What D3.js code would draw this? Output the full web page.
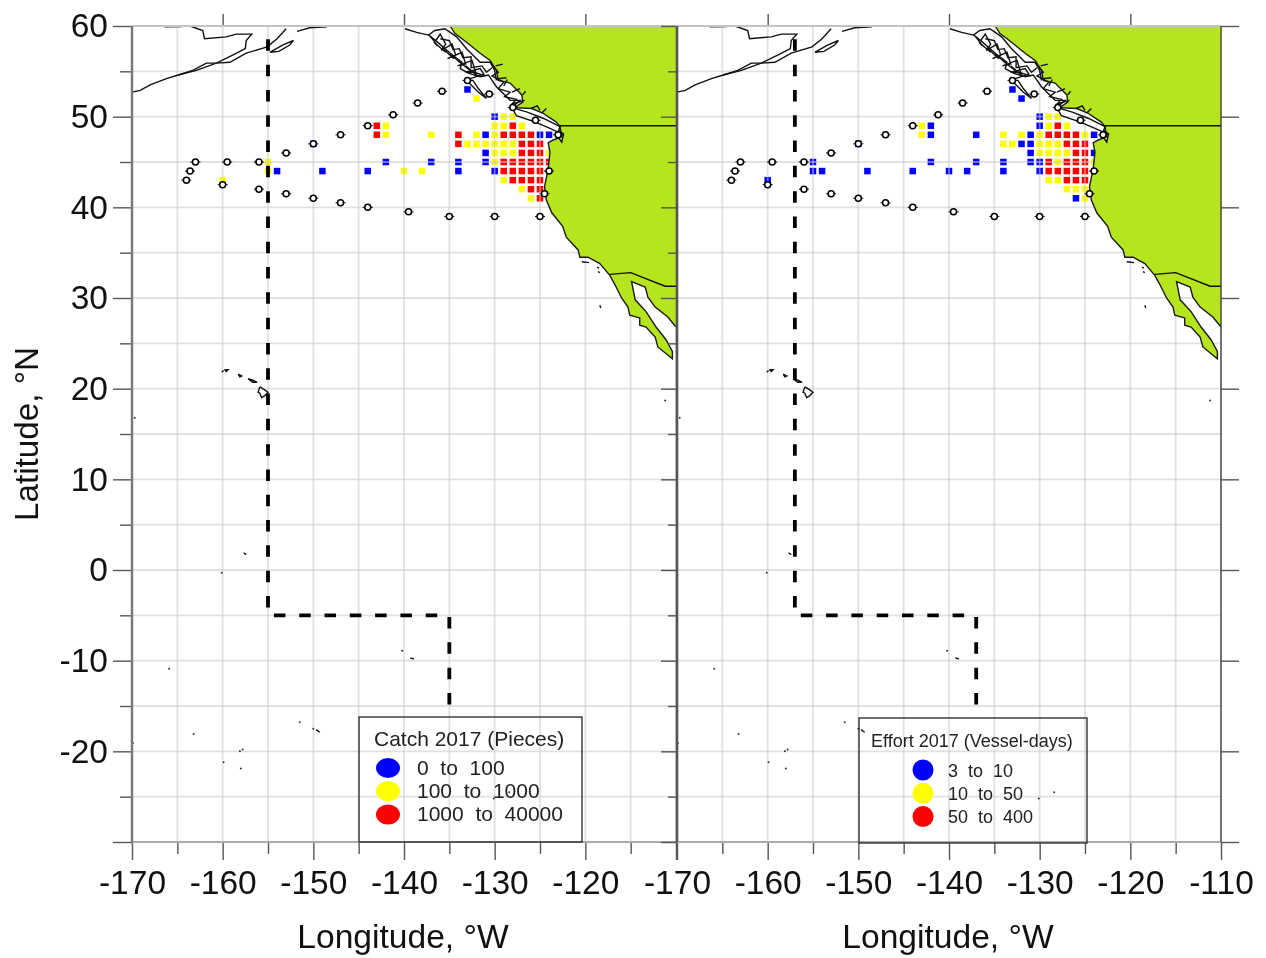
<!DOCTYPE html>
<html>
<head>
<meta charset="utf-8">
<script src="https://cdn.jsdelivr.net/npm/d3@7"></script>
<style>
  html, body { margin: 0; padding: 0; background: #fff; }
  svg { display: block; filter: blur(0.5px); font-family: "Liberation Sans", Arial, sans-serif; }
</style>
</head>
<body>
<svg id="chart" width="1266" height="958"></svg>
<script>
////////// Data : [longitude, latitude]

// catch 2017 (pieces)
var catchLow = [[-133,53],[-130,50],[-131,48],[-125,48],[-124,48],[-131,46],[-142,45],[-137,45],[-134,45],[-131,45],
  [-154,44],[-149,44],[-144,44],[-134,44],[-130,44],[-150,47]];
var catchMid = [[-132,52],[-129,50],[-128,50],[-142,49],[-130,49],[-129,49],[-127,49],[-142,48],[-137,48],[-132,48],[-130,48],
  [-133,47],[-132,47],[-131,47],[-130,47],[-129,47],[-128,47],[-130,46],[-129,46],[-128,46],[-124,46],[-155,45],[-130,45],
  [-155,44],[-140,44],[-138,44],[-160,43],[-129,43],[-127,42],[-126,41]];
var catchHigh = [[-143,49],[-128,49],[-143,48],[-134,48],[-129,48],[-128,48],[-127,48],[-126,48],[-134,47],[-127,47],[-126,47],[-125,47],
  [-127,46],[-126,46],[-125,46],[-129,45],[-128,45],[-127,45],[-126,45],[-125,45],[-124,45],
  [-129,44],[-128,44],[-127,44],[-126,44],[-125,44],[-128,43],[-127,43],[-126,43],[-125,43],[-126,42],[-125,42],[-125,41]];

// effort 2017 (vessel-days)
var effortLow = [[-133,53],[-132,52],[-130,50],[-142,49],[-130,49],[-142,48],[-137,48],[-131,48],[-124,48],[-132,47],[-131,47],
  [-150,47],[-131,46],[-124,46],[-155,45],[-142,45],[-137,45],[-134,45],[-131,45],[-130,45],
  [-155,44],[-154,44],[-149,44],[-144,44],[-140,44],[-138,44],[-134,44],[-130,44],[-160,43],[-126,41]];
var effortMid = [[-129,50],[-128,50],[-143,49],[-129,49],[-127,49],[-143,48],[-134,48],[-132,48],[-130,48],[-125,48],
  [-134,47],[-133,47],[-130,47],[-129,47],[-128,47],[-130,46],[-129,46],[-128,46],[-127,46],[-128,45],[-124,45],
  [-129,43],[-128,43],[-127,42],[-126,42],[-125,42],[-125,41]];
var effortHigh = [[-128,49],[-129,48],[-128,48],[-127,48],[-126,48],[-127,47],[-126,47],[-125,47],[-126,46],[-125,46],
  [-129,45],[-127,45],[-126,45],[-125,45],[-129,44],[-128,44],[-127,44],[-126,44],[-125,44],[-127,43],[-126,43],[-125,43]];

// sampling stations, the same on both panels
var stations = [[-164,43],[-163.6,44],[-163,45],[-159.5,45],[-156,45],[-160,42.5],[-156,42],[-153,46],[-153,41.5],[-150,47],[-150,41],
  [-147,48],[-147,40.5],[-144,49],[-144,40],[-141.2,50.2],[-138.5,51.5],[-139.5,39.5],[-135.8,52.8],[-133,54],[-130.6,52.5],
  [-128,51],[-125.5,49.6],[-123,48],[-124,44],[-124.5,41.5],[-125,39],[-130,39],[-135,39]];

// fishery boundary, the line is 2 degrees further west on the effort panel
var boundaryCatch = [[-155,59],[-155,-5],[-135,-5],[-135,-16.3]];
var boundaryEffort = [[-157,59],[-157,-5],[-137,-5],[-137,-16.3]];

// North America, coast first then closed along the frame
var coast = [[-134.9,60],[-134.4,59.2],[-133.1,58.2],[-131.6,57],[-130.5,56.2],[-129.8,55.1],[-129.6,54],[-128.3,53.7],[-127,52.4],[-126.9,51.6],
  [-127.8,51],[-125.9,50.9],[-124.7,50.4],[-123.2,49.4],[-122.8,48.9],[-122.6,47.8],[-123.6,47.4],[-124.1,47.1],[-123.9,46.1],[-124.1,44.2],
  [-124.5,42.3],[-124.3,40.8],[-123.7,39.4],[-122.5,37.9],[-122.1,36.7],[-120.8,35.3],[-120.6,34.5],[-119.7,34.5],[-118.4,33.8],[-117.3,32.5],
  [-116.7,31.4],[-116,30],[-115.3,29],[-115.1,28.1],[-114,27.8],[-114,27],[-113.3,26.8],[-112.3,25.7],[-112,24.6],[-110.4,23.3],
  [-110.4,24.1],[-111.1,25.4],[-112.2,26.8],[-113.3,28.5],[-114.5,29.8],[-114.9,31.8],[-113.4,31.2],[-113.1,30.1],[-112.3,29],[-110.9,27.9],[-110,26.8]];
var landCorners = [[-110,60]];
var borders = [
  [[-122.8,49],[-110,49]],
  [[-117.3,32.6],[-115,32.8],[-111.2,31.3],[-110,31.3]]
];

// other coast lines, not filled
var coastLines = [
  [[-170,52.7],[-169.1,52.9],[-168,53.5],[-166.2,54.2],[-164.9,54.6],[-162.9,55.1],[-160.7,55.9],[-159.2,56],[-157.4,57],[-155.1,57.7],[-154,58.6],[-153,59.7]],
  [[-151.8,59.4],[-150.4,59.8],[-148.5,59.9]],
  [[-164.9,54.6],[-163.3,55.1],[-161.8,55.9],[-160.7,55.9],[-158.9,56.8],[-157.5,57.5],[-157.4,58.4],[-156.8,59.1],[-158.5,59.1],[-159.6,58.8],[-162,58.6],[-162.2,59.5],[-163.6,60]],
  [[-154.8,57.1],[-153.4,57.9],[-152.2,58.4],[-152.6,57.9],[-153.8,57.2],[-154.8,57.1]],
  [[-166.4,59.9],[-164.5,59.95]],
  [[-139.9,59.7],[-138.6,59.3],[-137.3,59],[-136.6,59.5],[-135.5,59.7],[-134.9,59.3],[-134.2,58.8],[-133.1,57.5],[-131.6,56],[-130.5,56],[-130,55.1],[-129.8,54]],
  [[-137.3,59],[-136.4,58.3],[-134.9,57],[-133.6,56],[-133.8,55.3],[-132.9,54.8],[-131.6,54.4],[-130.7,54.6],[-129.8,53.3],[-128.3,51.8],[-127.2,51.8],[-128.1,51]],
  [[-136.5,58.4],[-136,59.1],[-135.4,58],[-135.9,57.3],[-134.7,58],[-134.3,56.8],[-135.2,56.4],[-133.6,57.1],[-133.2,55.8],[-134.1,55.6],[-132.5,56.2],[-132.1,54.9],[-133.2,54.9],[-131.6,55.3],[-131.2,54.7],[-132.7,54.2]],
  [[-136,58.6],[-135,58.4],[-134.6,57.4],[-133.9,57.5],[-133.5,56.5],[-132.6,56.6],[-132.6,55.4],[-131.4,55.6],[-130.9,54.9],[-130.3,55.4]],
  [[-137.1,58.9],[-136.3,57.8],[-136.7,58.2],[-135.4,57.1],[-135.8,57.6],[-134.5,56.4],[-134.9,56.9],[-133.6,55.8],[-134.1,56.2],[-132.7,55.1],[-133.2,55.6],[-131.9,54.5],[-132.3,54.9],[-131,54.5]],
  [[-130.5,56],[-129.6,54.9],[-130.3,54.5],[-129,53.8],[-129.6,53.1],[-128.3,52.7],[-128.9,52.2],[-127.6,51.9],[-128.1,51.4],[-126.7,51.8]],
  // Haida Gwaii
  [[-133.1,54],[-132.4,54],[-131.8,53.1],[-130.9,52],[-131.8,52.7],[-132.7,53.6],[-133.1,54]],
  // Vancouver Island
  [[-128.1,51],[-127.6,50.1],[-125.5,49.4],[-123.9,48.7],[-123,48.3],[-122.8,48.9],[-124.6,49.8],[-126.4,50.5],[-128.1,51]],
  [[-123.2,48],[-122.6,47.2],[-122.4,48.1],[-123,48.5]],
  [[-129.9,55.6],[-129.1,55.8]],[[-129.6,54.2],[-128.7,54.3]],[[-129,53.4],[-128.6,54.1]],[[-128.1,52.7],[-127.2,53.1]],
  [[-126.9,52.4],[-126.6,52.8]],[[-126,50.9],[-125.3,51.2],[-125,50.7]],[[-124.8,50.4],[-124.3,50.9]],
  // Hawaii
  [[-160.1,21.8],[-159.9,22]],[[-159.8,22.1],[-159.4,22.1],[-159.6,21.9],[-159.8,22.1]],
  [[-158.3,21.6],[-157.9,21.4],[-158.1,21.3],[-158.3,21.6]],
  [[-157.2,21.1],[-156.7,20.7],[-156.2,20.7],[-156.6,20.9],[-157.2,21.1]],
  [[-155.9,20.2],[-155.4,19.9],[-155,19.6],[-155.4,19.2],[-155.7,19],[-155.9,19.5],[-156.1,19.6],[-155.9,20.2]],
  // Channel Islands etc.
  [[-120.4,34],[-119.6,33.9]],[[-118.7,33.4],[-118.5,33.3]],[[-118.6,32.9],[-118.4,32.8]],[[-118.4,29.2],[-118.3,28.9]],
  [[-157.7,1.9],[-157.4,1.7]],[[-149.7,-17.6],[-149.3,-17.9]],[[-139.3,-9.7],[-138.9,-9.8]]
];
var specks = [[-165.9,-10.9],[-169.9,-19.1],[-163.2,-18.1],[-159.9,-21.2],[-158,-21.9],[-158.1,-20],[-157.8,-19.8],[-151.5,-16.8],[-150,-17.5],
  [-140.2,-8.9],[-160.1,-0.3],[-169.7,16.8],[-111.2,18.7],[-128.4,-24.5],[-130.1,-25.2]];

// axes
var lonMajor = [-170,-160,-150,-140,-130,-120,-110];
var lonMinor = [-165,-155,-145,-135,-125,-115];
var lonTop = [-160,-140,-120];
var latMajor = [-30,-20,-10,0,10,20,30,40,50,60];
var latMinor = [-25,-15,-5,5,15,25,35,45,55];
var latLabels = [-20,-10,0,10,20,30,40,50,60];

// legends
var catchLabels = ["0  to  100","100  to  1000","1000  to  40000"];
var effortLabels = ["3  to  10","10  to  50","50  to  400"];
var classColors = ["#0000ff","#ffff00","#ff0000"];

////////// Drawing
var svg = d3.select("#chart");
var y = d3.scaleLinear().domain([-30,60]).range([842,26]);
var line = d3.line();
var tickFont = 33.5;

function drawPanel(p) {
  var x = d3.scaleLinear().domain([-170,-110]).range(p.range);
  var g = svg.append("g");
  line.x(function(d) { return x(d[0]); }).y(function(d) { return y(d[1]); });

  // squares first, the grid passes over them
  [p.low,p.mid,p.high].forEach(function(cells,i) {
    g.selectAll(null).data(cells).enter().append("rect")
      .attr("x", function(d) { return x(d[0])-3.25; })
      .attr("y", function(d) { return y(d[1])-3.25; })
      .attr("width", 6.5).attr("height", 6.5)
      .attr("fill", classColors[i]);
  });

  // grid
  var lonGrid = lonMajor.concat(lonMinor), latGrid = latMajor.concat(latMinor);
  g.selectAll(null).data(lonGrid).enter().append("line")
    .attr("x1", x).attr("x2", x).attr("y1", y(-30)).attr("y2", y(60))
    .attr("stroke", "#c8c8c8").attr("stroke-width", 1.8).attr("stroke-opacity", 0.55);
  g.selectAll(null).data(latGrid).enter().append("line")
    .attr("x1", p.range[0]).attr("x2", p.range[1]).attr("y1", y).attr("y2", y)
    .attr("stroke", "#c8c8c8").attr("stroke-width", 1.8).attr("stroke-opacity", 0.55);

  // land
  g.append("path").attr("d", line(coast.concat(landCorners))+"Z").attr("fill", "#b5e61d");
  g.append("path").attr("d", line(coast)).attr("fill", "none").attr("stroke", "#1a1a1a").attr("stroke-width", 1.4);
  coastLines.concat(borders).forEach(function(l) {
    g.append("path").attr("d", line(l)).attr("fill", "none").attr("stroke", "#111").attr("stroke-width", 1.4);
  });
  g.selectAll(null).data(specks).enter().append("circle")
    .attr("cx", function(d) { return x(d[0]); }).attr("cy", function(d) { return y(d[1]); })
    .attr("r", 1).attr("fill", "#333");

  // boundary
  g.append("path").attr("d", line(p.boundary)).attr("fill", "none")
    .attr("stroke", "#000").attr("stroke-width", 3.8)
    .attr("stroke-dasharray", "11.5 13.8").attr("stroke-dashoffset", 21);

  // stations
  var st = g.selectAll(null).data(stations).enter().append("g")
    .attr("transform", function(d) { return "translate("+x(d[0])+","+y(d[1])+")"; });
  st.append("line").attr("x1", -5).attr("x2", 5).attr("stroke", "#000").attr("stroke-width", 1);
  st.append("circle").attr("r", 3).attr("fill", "#fff").attr("stroke", "#000").attr("stroke-width", 1.5);

  // axes
  var axisLeft = function(values,size,fmt) {
    var a = g.append("g").attr("transform", "translate("+p.range[0]+",0)")
      .call(d3.axisLeft(y).tickValues(values).tickSize(size).tickPadding(5).tickFormat(fmt));
    a.select(".domain").remove();
    a.selectAll("line").attr("stroke", "#555").attr("stroke-width", 1.4);
    a.selectAll("text").attr("font-size", tickFont).attr("fill", "#111").attr("font-family", "Liberation Sans");
  };
  var noLabel = function() { return ""; };
  axisLeft(latMajor, p.leftMajor, function(d) { return p.showLat && latLabels.indexOf(d)>=0 ? String(d) : ""; });
  axisLeft(latMinor, p.leftMinor, noLabel);

  var axisBottom = function(values,size,fmt) {
    var a = g.append("g").attr("transform", "translate(0,842)")
      .call(d3.axisBottom(x).tickValues(values).tickSize(size).tickPadding(10).tickFormat(fmt));
    a.select(".domain").remove();
    a.selectAll("line").attr("stroke", "#555").attr("stroke-width", 1.4);
    a.selectAll("text").attr("font-size", tickFont).attr("fill", "#111").attr("font-family", "Liberation Sans");
  };
  axisBottom(lonMajor, 18, function(d) { return p.lonLabels.indexOf(d)>=0 ? String(d) : ""; });
  axisBottom(lonMinor, 12, noLabel);

  var top = g.append("g").attr("transform", "translate(0,26)")
    .call(d3.axisTop(x).tickValues(lonTop).tickSize(12).tickFormat(noLabel));
  top.select(".domain").remove();
  top.selectAll("line").attr("stroke", "#555").attr("stroke-width", 1.4);

  // frame
  g.append("line").attr("x1", p.range[0]).attr("x2", p.range[1]).attr("y1", 26).attr("y2", 26).attr("stroke", "#c4c4c4").attr("stroke-width", 2);
  g.append("line").attr("x1", p.range[0]).attr("x2", p.range[1]).attr("y1", 842).attr("y2", 842).attr("stroke", "#aaa").attr("stroke-width", 2);
  g.append("line").attr("x1", p.range[0]).attr("x2", p.range[0]).attr("y1", 26).attr("y2", 842).attr("stroke", p.frameColor).attr("stroke-width", p.frameWidth);

  if (p.rightTicks) {
    var right = g.append("g").attr("transform", "translate("+p.range[1]+",0)")
      .call(d3.axisRight(y).tickValues(latMajor).tickSize(18).tickFormat(noLabel));
    right.select(".domain").remove();
    right.selectAll("line").attr("stroke", "#555").attr("stroke-width", 1.4);
    g.append("line").attr("x1", p.range[1]).attr("x2", p.range[1]).attr("y1", 26).attr("y2", 842).attr("stroke", "#444").attr("stroke-width", 1.4);
  }

  // axis title
  g.append("text").attr("x", p.titleX).attr("y", 948).attr("text-anchor", "middle")
    .attr("font-size", 33.6).attr("fill", "#111").text("Longitude, °W");

  // legend
  var lg = p.legend;
  g.append("rect").attr("x", lg.x).attr("y", lg.y).attr("width", lg.w).attr("height", lg.h)
    .attr("fill", "none").attr("stroke", "#333").attr("stroke-width", 1.4);
  g.append("text").attr("x", lg.titleX).attr("y", lg.titleY).attr("font-size", lg.titleSize).attr("fill", "#222").text(lg.title);
  lg.labels.forEach(function(t,i) {
    var cy = lg.rowY+i*23.3;
    g.append("ellipse").attr("cx", lg.swatchX).attr("cy", cy).attr("rx", lg.rx).attr("ry", lg.ry).attr("fill", classColors[i]);
    g.append("text").attr("x", lg.textX).attr("y", cy+6.5).attr("font-size", lg.textSize).attr("fill", "#222")
      .style("white-space", "pre").text(t);
  });
}

drawPanel({
  range: [132,676], low: catchLow, mid: catchMid, high: catchHigh, boundary: boundaryCatch,
  showLat: true, leftMajor: 19, leftMinor: 12, lonLabels: [-170,-160,-150,-140,-130,-120],
  frameColor: "#777", frameWidth: 2.4, rightTicks: false, titleX: 403,
  legend: {x:359,y:717,w:223,h:125,title:"Catch 2017 (Pieces)",titleX:374,titleY:746,titleSize:21,
    labels:catchLabels,rowY:768,swatchX:388,rx:12,ry:10,textX:417,textSize:21}
});
drawPanel({
  range: [677,1221], low: effortLow, mid: effortMid, high: effortHigh, boundary: boundaryEffort,
  showLat: false, leftMajor: 16, leftMinor: 9, lonLabels: lonMajor,
  frameColor: "#555", frameWidth: 2.6, rightTicks: true, titleX: 948,
  legend: {x:859,y:718,w:228,h:125,title:"Effort 2017 (Vessel-days)",titleX:871,titleY:747,titleSize:18,
    labels:effortLabels,rowY:770,swatchX:923,rx:10.5,ry:10.5,textX:948,textSize:18}
});

svg.append("text").attr("transform", "translate(38,434) rotate(-90)").attr("text-anchor", "middle")
  .attr("font-size", 33.2).attr("fill", "#111").text("Latitude, °N");
</script>
</body>
</html>
